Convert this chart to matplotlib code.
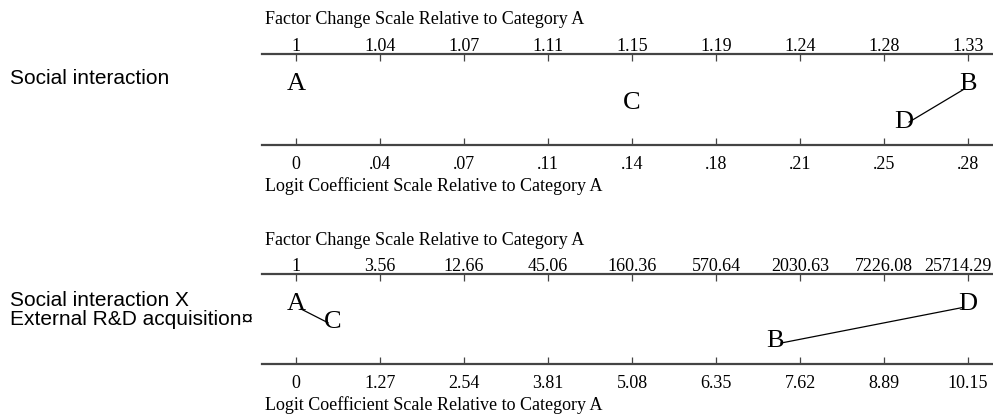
import numpy as np
import matplotlib
matplotlib.use("Agg")
import matplotlib.pyplot as plt
import matplotlib.transforms as mtransforms

# ---------------- data ----------------
categories = ["A", "B", "C", "D"]

panel_names = ["Social interaction",
               "Social interaction X\nExternal R&D acquisition\u00a4"]

# panel 1: Social interaction
si_logit = [0.0, 0.2832, 0.1416, 0.2563]
si_rows = [0, 0, 1, 2]
si_links = [("D", "B")]
si_max = 0.2832
si_logit_labels = ["0", ".04", ".07", ".11", ".14", ".18", ".21", ".25", ".28"]
si_factor_labels = ["1", "1.04", "1.07", "1.11", "1.15", "1.19", "1.24", "1.28", "1.33"]

# panel 2: Social interaction X External R&D acquisition
sx_logit = [0.0, 7.24, 0.56, 10.155]
sx_rows = [0, 2, 1, 0]
sx_links = [("A", "C"), ("B", "D")]
sx_max = 10.155
sx_logit_labels = ["0", "1.27", "2.54", "3.81", "5.08", "6.35", "7.62", "8.89", "10.15"]
sx_factor_labels = ["1", "3.56", "12.66", "45.06", "160.36", "570.64",
                    "2030.63", "7226.08", "25714.29"]

# ---------------- layout ----------------
W, H = 993, 416
fig = plt.figure(figsize=(W / 100, H / 100), dpi=100)
SERIF = "Liberation Serif"
SANS = "Liberation Sans"
TICK_FS = 13
TITLE_FS = 13
LET_FS = 19
AX_L, AX_R = 262, 993
X0, X1 = 296, 968
LINE_COLOR = "#444444"


def panel(top_px, bot_px, logit, rows, links, xmax, logit_labels, factor_labels,
          title_top_base, title_bot_base, last_shift_px=0):
    ax = fig.add_axes([AX_L / W, 1 - bot_px / H, (AX_R - AX_L) / W, (bot_px - top_px) / H])
    scale = (X1 - X0) / xmax
    xlim = (-(X0 - AX_L) / scale, xmax + (AX_R - X1) / scale)
    ax.set_xlim(*xlim)
    ax.set_ylim(3.35, -1.42)
    for s in ["left", "right"]:
        ax.spines[s].set_visible(False)
    for s in ["top", "bottom"]:
        ax.spines[s].set_linewidth(1.6)
        ax.spines[s].set_color(LINE_COLOR)
    ticks = np.linspace(0, xmax, len(logit_labels))
    ax.set_yticks([])
    ax.set_xticks(ticks)
    ax.set_xticklabels(logit_labels, fontsize=TICK_FS, family=SERIF)
    ax.tick_params(axis="x", direction="in", length=5, width=0.9, pad=8, color=LINE_COLOR)

    ax2 = ax.twiny()
    ax2.set_xlim(*xlim)
    ax2.set_xticks(ticks)
    ax2.set_xticklabels(factor_labels, fontsize=TICK_FS, family=SERIF)
    ax2.tick_params(axis="x", direction="in", length=5, width=0.9, pad=-0.5, color=LINE_COLOR)
    for s in ["left", "right", "top", "bottom"]:
        ax2.spines[s].set_visible(False)
    if last_shift_px:
        # keep the right-most top label inside the picture
        last = ax2.get_xticklabels()[-1]
        last.set_transform(last.get_transform() +
                           mtransforms.ScaledTranslation(last_shift_px / 100, 0,
                                                         fig.dpi_scale_trans))

    pos = {c: (x, r) for c, x, r in zip(categories, logit, rows)}
    for a, b in links:
        xa, ra = pos[a]
        xb, rb = pos[b]
        ax.annotate("", xy=(xb, rb + 0.3), xytext=(xa, ra + 0.3),
                    arrowprops=dict(arrowstyle="-", lw=0.9, color="black",
                                    shrinkA=4, shrinkB=4))
    cap = 0.662 * LET_FS
    for c, (x, r) in pos.items():
        ax.annotate(c, xy=(x, r), xytext=(0, -cap / 2), textcoords="offset points",
                    ha="center", va="baseline", fontsize=LET_FS, family=SERIF)

    fig.text(265 / W, 1 - title_top_base / H, "Factor Change Scale Relative to Category A",
             fontsize=TITLE_FS, family=SERIF, va="baseline", ha="left")
    fig.text(265 / W, 1 - title_bot_base / H, "Logit Coefficient Scale Relative to Category A",
             fontsize=TITLE_FS, family=SERIF, va="baseline", ha="left")
    return ax


panel(54, 145, si_logit, si_rows, si_links, si_max, si_logit_labels, si_factor_labels, 24, 191)
panel(274, 364, sx_logit, sx_rows, sx_links, sx_max, sx_logit_labels, sx_factor_labels, 245, 410,
      last_shift_px=-10)

fig.text(10 / W, 1 - 84 / H, panel_names[0], fontsize=15, family=SANS, va="baseline", ha="left")
line1, line2 = panel_names[1].split("\n")
fig.text(10 / W, 1 - 306 / H, line1, fontsize=15, family=SANS, va="baseline", ha="left")
fig.text(10 / W, 1 - 325 / H, line2, fontsize=15, family=SANS, va="baseline", ha="left")

fig.savefig("out.png", dpi=100, facecolor="white")
